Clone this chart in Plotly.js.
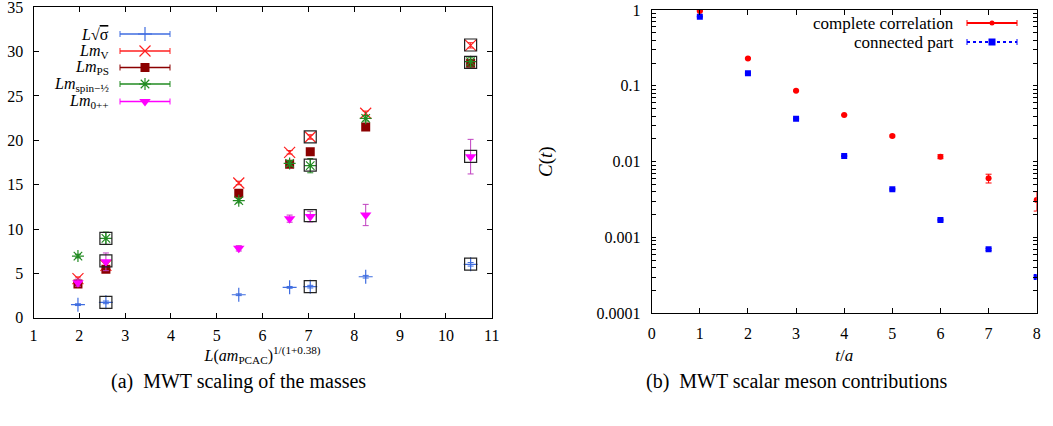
<!DOCTYPE html>
<html>
<head>
<meta charset="utf-8">
<script src="https://cdn.plot.ly/plotly-3.0.1.min.js"></script>
<style>html,body{margin:0;padding:0;background:#fff;}</style>
</head>
<body>
<div id="chart" style="width:1053px;height:426px;"></div>
<script>
// ---------- Data: panel (a) ----------
const xScaling = [1.97, 2.58, 5.48, 6.59, 7.04, 8.25, 10.54];
const sigmaVals = [1.47, 1.73, 2.59, 3.42, 3.50, 4.62, 6.02];
const sigmaErr  = [0.10, 0.15, 0.10, 0.10, 0.15, 0.15, 0.20];
const mVVals    = [4.40, 5.90, 15.19, 18.65, 20.38, 23.05, 30.71];
const mVErr     = [0.20, 0.30, 0.20, 0.20, 0.25, 0.25, 0.30];
const mPSVals   = [3.80, 5.45, 14.02, 17.29, 18.72, 21.50, 28.68];
const mPSErr    = [0.15, 0.20, 0.15, 0.15, 0.20, 0.20, 0.25];
const mSpinVals = [6.95, 8.95, 13.20, 17.40, 17.14, 22.48, 28.87];
const mSpinErr  = [0.20, 0.70, 0.25, 0.30, 0.80, 0.30, 0.50];
const m0Vals    = [3.95, 6.30, 7.82, 11.17, 11.40, 11.58, 18.16];
const m0Err     = [0.40, 1.00, 0.30, 0.40, 0.60, 1.20, 1.95];
const boxX = [2.58, 2.58, 2.58, 7.04, 7.04, 7.04, 7.04, 10.54, 10.54, 10.54, 10.54];
const boxY = [1.73, 6.40, 8.95, 3.50, 11.50, 17.20, 20.40, 6.05, 18.20, 28.80, 30.75];
const xTicksA = [1,2,3,4,5,6,7,8,9,10,11];
const yTicksA = [0,5,10,15,20,25,30,35];

// ---------- Data: panel (b) ----------
const tVals = [1, 2, 3, 4, 5, 6, 7, 8];
const completeVals = [0.97, 0.23, 0.0863, 0.0412, 0.0218, 0.01164, 0.00603, 0.00313];
const completeErr  = [0.02, 0.004, 0.0015, 0.0008, 0.0006, 0.0007, 0.0008, 0.0009];
const connectedVals = [0.817, 0.146, 0.0369, 0.0119, 0.00431, 0.0017, 0.000698, 0.000302];
const connectedErr  = [0.01, 0.002, 0.0005, 0.0002, 0.00008, 0.00004, 0.00002, 0.00001];
const xTicksB = [0,1,2,3,4,5,6,7,8];
const yTicksB = [1, 0.1, 0.01, 0.001, 0.0001];
const yTickTextB = ['1','0.1','0.01','0.001','0.0001'];
const minorMantissas = [2,3,4,5,6,7,8,9];
const decadesB = [0.0001, 0.001, 0.01, 0.1];

// ---------- Styling ----------
const W = 1053, H = 426;
const FONT = 'Liberation Serif, DejaVu Serif, serif';
const C = {sigma:'#3f6de0', V:'#ff2020', PS:'#8b0000', spin:'#228b22', m0:'#ff00ff', m0bar:'#c040c0',
           red:'#ff0000', blue:'#0000ff'};
const A = {l:33.5, r:491.7, t:7.3, b:317.7};
const B = {l:651.7, r:1036.7, t:10, b:313.3};
const px = x => x / W, py = y => 1 - y / H;

function errY(arr, color, w) { return {type:'data', array:arr, visible:true, color:color, thickness:1, width:w||3}; }
const mk = {
  sigma:{symbol:'cross-thin-open', size:10, color:C.sigma, line:{color:C.sigma, width:1.2}},
  V:{symbol:'x-thin-open', size:11, color:C.V, line:{color:C.V, width:1.2}},
  PS:{symbol:'square', size:9, color:C.PS},
  spin:{symbol:'asterisk-open', size:10, color:C.spin, line:{color:C.spin, width:1.2}},
  m0:{symbol:'triangle-down', size:10, color:C.m0},
  box:{symbol:'square-open', size:12, color:'#222', line:{color:'#222', width:1.2}},
  comp:{symbol:'circle', size:6, color:C.red},
  conn:{symbol:'square', size:6, color:C.blue}
};

const traces = [];
traces.push({x:xScaling, y:sigmaVals, error_y:errY(sigmaErr, C.sigma), mode:'markers', type:'scatter', xaxis:'x', yaxis:'y', marker:mk.sigma});
traces.push({x:xScaling, y:mVVals, error_y:errY(mVErr, C.V), mode:'markers', type:'scatter', xaxis:'x', yaxis:'y', marker:mk.V});
traces.push({x:xScaling, y:mPSVals, error_y:errY(mPSErr, C.PS), mode:'markers', type:'scatter', xaxis:'x', yaxis:'y', marker:mk.PS});
traces.push({x:xScaling, y:mSpinVals, error_y:errY(mSpinErr, C.spin), mode:'markers', type:'scatter', xaxis:'x', yaxis:'y', marker:mk.spin});
traces.push({x:xScaling, y:m0Vals, error_y:errY(m0Err, C.m0bar), mode:'markers', type:'scatter', xaxis:'x', yaxis:'y', marker:mk.m0});
traces.push({x:boxX, y:boxY, mode:'markers', type:'scatter', xaxis:'x', yaxis:'y', marker:mk.box});
traces.push({x:tVals, y:completeVals, error_y:errY(completeErr, C.red, 3), mode:'markers', type:'scatter', xaxis:'x2', yaxis:'y2', marker:mk.comp});
traces.push({x:tVals, y:connectedVals, error_y:errY(connectedErr, C.blue, 3), mode:'markers', type:'scatter', xaxis:'x2', yaxis:'y2', marker:mk.conn});

// ---------- custom legends (pixel-coordinate overlay axis) ----------
const legA = {textRight:110, x0:120, x1:170, rows:[34, 51, 67.5, 84, 101.5]};
const legAItems = [
  {label:'<i>L</i>√<span style="text-decoration:overline">σ</span>', color:C.sigma, marker:mk.sigma},
  {label:'<i>Lm</i><sub>V</sub>', color:C.V, marker:mk.V},
  {label:'<i>Lm</i><sub>PS</sub>', color:C.PS, marker:mk.PS},
  {label:'<i>Lm</i><sub>spin−½</sub>', color:C.spin, marker:mk.spin},
  {label:'<i>Lm</i><sub>0++</sub>', color:C.m0, marker:mk.m0}
];
const legB = {textRight:955, x0:967, x1:1017, rows:[23, 42]};
const legBItems = [
  {label:'complete correlation', color:C.red, dash:'solid', width:2, marker:{symbol:'circle', size:5, color:C.red}},
  {label:'connected part', color:C.blue, dash:'dot', width:2, marker:{symbol:'square', size:7, color:C.blue}}
];

const shapes = [];
const annotations = [];
function addLegend(leg, items, fsize) {
  items.forEach((it, i) => {
    const y = leg.rows[i];
    shapes.push({type:'line', xref:'x3', yref:'y3', x0:leg.x0, x1:leg.x1, y0:y, y1:y,
      line:{color:it.color, width:it.width||1.5, dash:it.dash||'solid'}});
    [leg.x0, leg.x1].forEach(xc => shapes.push({type:'line', xref:'x3', yref:'y3', x0:xc, x1:xc, y0:y-3, y1:y+3,
      line:{color:it.color, width:1}}));
    traces.push({x:[(leg.x0+leg.x1)/2], y:[y], xaxis:'x3', yaxis:'y3', mode:'markers', type:'scatter',
      marker:it.marker, hoverinfo:'skip'});
    annotations.push({xref:'x3', yref:'y3', x:leg.textRight, y:y, xanchor:'right', yanchor:'middle',
      text:it.label, showarrow:false, font:{family:FONT, size:fsize, color:'#000'}, borderpad:0});
  });
}
addLegend(legA, legAItems, 16);
addLegend(legB, legBItems, 17);

annotations.push({xref:'paper', yref:'paper', x:px(238), y:py(381), xanchor:'center', yanchor:'middle', showarrow:false,
  text:'(a)  MWT scaling of the masses', font:{family:FONT, size:20, color:'#000'}});
annotations.push({xref:'paper', yref:'paper', x:px(796), y:py(381), xanchor:'center', yanchor:'middle', showarrow:false,
  text:'(b)  MWT scalar meson contributions', font:{family:FONT, size:20, color:'#000'}});

const axisBase = {showline:true, mirror:'ticks', linecolor:'#000', linewidth:1, ticks:'inside', ticklen:5,
  tickcolor:'#000', showgrid:false, zeroline:false, ticklabeloverflow:'allow',
  tickfont:{family:FONT, size:16, color:'#000'}};

// log-axis tick set: labelled decades plus unlabelled intermediate ticks
const yTickAllB = yTicksB.slice();
const yTickTextAllB = yTickTextB.slice();
decadesB.forEach(d => minorMantissas.forEach(m => { yTickAllB.push(d * m); yTickTextAllB.push(''); }));

const layout = {
  width:W, height:H, autosize:false, margin:{l:0, r:0, t:0, b:0},
  paper_bgcolor:'#fff', plot_bgcolor:'rgba(0,0,0,0)', showlegend:false,
  xaxis:Object.assign({}, axisBase, {domain:[px(A.l), px(A.r)], range:[1,11], tickvals:xTicksA, anchor:'y',
    ticklabelstandoff:3,
    title:{text:'<i>L</i>(<i>am</i><sub>PCAC</sub>)<sup>1/(1+0.38)</sup>', font:{family:FONT, size:16, color:'#000'}, standoff:6}}),
  yaxis:Object.assign({}, axisBase, {domain:[py(A.b), py(A.t)], range:[0,35], tickvals:yTicksA, anchor:'x',
    ticklabelstandoff:6}),
  xaxis2:Object.assign({}, axisBase, {domain:[px(B.l), px(B.r)], range:[0,8], tickvals:xTicksB, anchor:'y2',
    ticklabelstandoff:5,
    title:{text:'<i>t</i>/<i>a</i>', font:{family:FONT, size:17, color:'#000'}, standoff:8}}),
  yaxis2:Object.assign({}, axisBase, {domain:[py(B.b), py(B.t)], type:'log', range:[-4,0], tickmode:'array',
    tickvals:yTickAllB, ticktext:yTickTextAllB, anchor:'x2', ticklen:4, ticklabelstandoff:7,
    title:{text:'<i>C</i>(<i>t</i>)', font:{family:FONT, size:19, color:'#000'}, standoff:38}}),
  xaxis3:{domain:[0,1], range:[0,W], visible:false, fixedrange:true, anchor:'y3'},
  yaxis3:{domain:[0,1], range:[H,0], visible:false, fixedrange:true, anchor:'x3'},
  shapes:shapes, annotations:annotations
};

Plotly.newPlot('chart', traces, layout, {displayModeBar:false, staticPlot:true});
</script>
</body>
</html>
